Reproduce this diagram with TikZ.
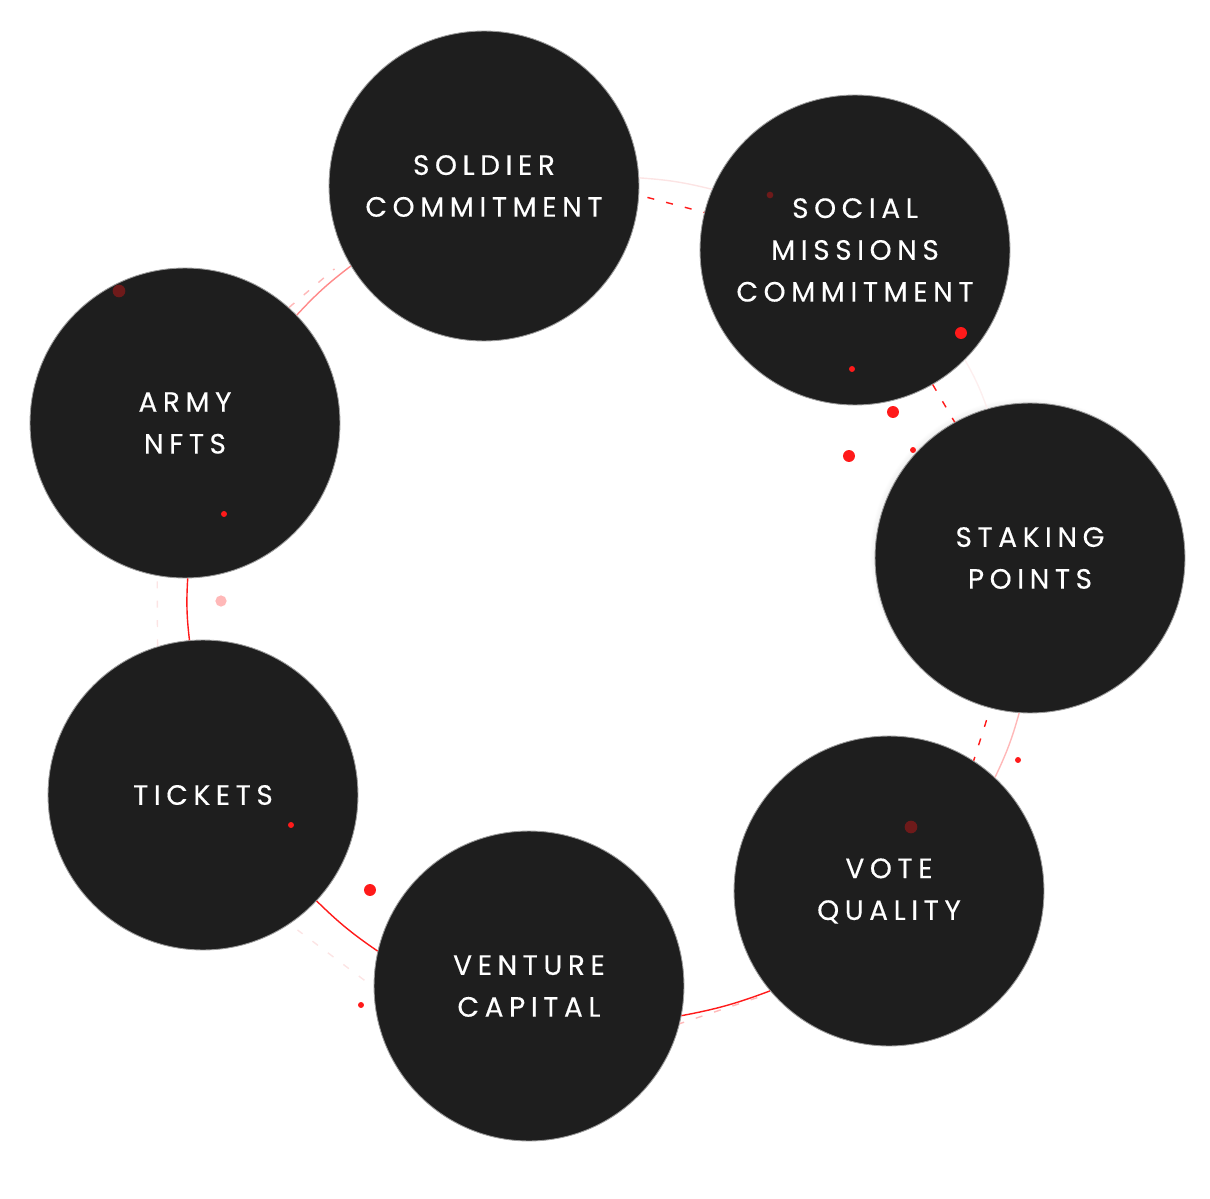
\documentclass[tikz,border=0pt]{standalone}
\usepackage{fontspec}
\usepackage{tikz}
\usetikzlibrary{calc,shadows}
\newfontfamily\ringfont[LetterSpace=20,FakeBold=0.3]{Poppins}
\definecolor{coal}{HTML}{1E1E1E}
\definecolor{rim}{HTML}{9A9A9A}
\definecolor{hotred}{HTML}{FF1A1A}
\definecolor{rosered}{HTML}{FF8A8A}
\definecolor{blush}{HTML}{FFB8B8}
\definecolor{mist}{HTML}{FCE4E4}
\definecolor{maroon}{HTML}{6E1A1A}

\begin{document}
\begin{tikzpicture}[
  x=0.02cm, y=-0.02cm,
  ring/.style={circle,draw=rim,line width=0.5pt,fill=coal,minimum size=6.2cm,inner sep=0pt,
    align=center,text=white,font=\ringfont\fontsize{15.9pt}{23.8pt}\selectfont},
  link/.style={line width=0.8pt,bend left=5},
  dashlink/.style={line width=0.8pt,dash pattern=on 4pt off 7pt}
]
\useasboundingbox (0,0) rectangle (1210,1199);

\node[ring] (soldier) at (484,186) {SOLDIER\\COMMITMENT};
\node[ring] (social) at (855,250) {SOCIAL\\MISSIONS\\COMMITMENT};
\node[ring,circular drop shadow={shadow xshift=-2pt,shadow yshift=2pt,shadow scale=1.01,opacity=0.45}] (staking) at (1030,558) {STAKING\\POINTS};
\node[ring] (vote) at (889,891) {VOTE\\QUALITY};
\node[ring,text depth=-9pt] (venture) at (529,986) {VENTURE\\CAPITAL};
\node[ring] (tickets) at (203,795) {TICKETS};
\node[ring] (army) at (185,423) {ARMY\\NFTS};

% solid links round the ring
\draw[link,draw=mist] (soldier.3) to (social.157);
\draw[link,draw=mist!60] (social.-45) to (staking.106);
\draw[link,draw=blush] (staking.266) to (vote.47);
\draw[link,draw=hotred] (vote.220) to (venture.-11);
\draw[link,draw=hotred] (venture.167) to (tickets.-43);
\draw[link,draw=hotred] (tickets.95) to (army.-89);
\draw[link,draw=rosered] (army.44.5) to (soldier.211);

% dashed links
\draw[dashlink,draw=hotred] ($(soldier)!1.054!(soldier.-4)$) -- (social.166);
\draw[dashlink,draw=hotred] (social.-60) -- (staking.119);
\draw[dashlink,draw=hotred] ($(staking)!1.08!(staking.255)$) -- (vote.57);
\draw[dashlink,draw=blush] ($(vote)!1.09!(vote.219)$) -- (venture.-14.5);
\draw[dashlink,draw=mist] ($(venture)!1.06!(venture.178)$) -- ($(tickets)!1.06!(tickets.-55)$);
\draw[dashlink,draw=mist] (tickets.107) -- ($(army)!1.03!(army.260)$);
\draw[dashlink,draw=blush] (army.48.4) -- ($(soldier)!1.1!(soldier.209)$);

% dots
\foreach \px/\py/\rad/\col in {
  961/333/3.4pt/hotred, 852/369/1.7pt/hotred, 893/412/3.4pt/hotred,
  849/456/3.4pt/hotred, 913/450/1.7pt/hotred, 224/514/1.7pt/hotred,
  221/601/3.2pt/blush, 291/825/1.7pt/hotred, 370/890/3.4pt/hotred,
  361/1005/1.7pt/hotred, 1018/760/1.7pt/hotred,
  770/195/1.9pt/maroon, 119/291/3.6pt/maroon, 911/827/3.6pt/maroon}
  \fill[\col] (\px,\py) circle (\rad);
\end{tikzpicture}
\end{document}
